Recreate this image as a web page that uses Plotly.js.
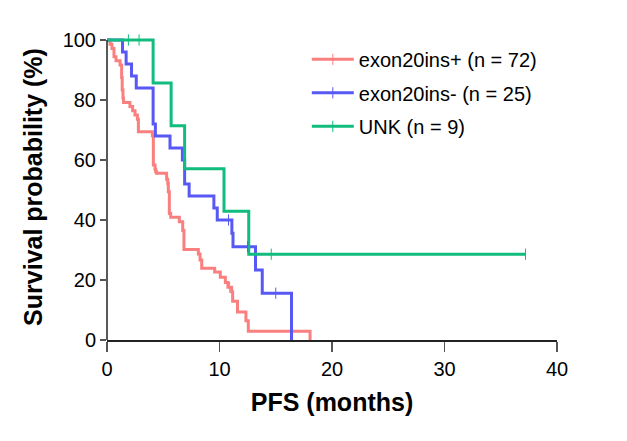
<!DOCTYPE html>
<html>
<head>
<meta charset="utf-8">
<script src="https://cdn.plot.ly/plotly-3.0.1.min.js"></script>
<style>html,body{margin:0;padding:0;background:#fff;}#chart{width:627px;height:441px;}</style>
</head>
<body>
<div id="chart"></div>
<script>
// Kaplan-Meier step data (time in months, survival in %)
const seriesNames = ["exon20ins+ (n = 72)", "exon20ins- (n = 25)", "UNK (n = 9)"];

const redT = [0, 0.27, 0.44, 0.62, 0.8, 1.16, 1.3, 1.35, 1.42, 1.47, 2.04, 2.28, 2.49, 2.7, 2.79, 4.03, 4.12, 4.27, 4.33, 4.41, 5.3, 5.4, 5.45, 5.54, 5.66, 6.43, 6.73, 6.84, 8.12, 8.27, 8.42, 9.57, 10.07, 10.52, 10.75, 11.08, 11.17, 11.6, 12.35, 12.56, 18.05];
const redS = [100, 98.6, 97.2, 94.4, 93.1, 91.7, 87.5, 83.3, 80.6, 79.2, 77.8, 76.4, 75.0, 73.6, 69.4, 68.1, 58.3, 56.9, 56.1, 55.6, 53.6, 52.2, 49.4, 42.2, 40.9, 39.4, 36.5, 30.2, 28.7, 26.7, 23.9, 22.7, 20.9, 19.2, 17.6, 16.1, 12.9, 9.3, 6.4, 2.9, 0];
const redCensorT = [10.9];
const redCensorS = [17.6];

const blueT = [0, 1.38, 1.7, 2.18, 2.6, 4.1, 4.3, 5.6, 6.7, 6.9, 7.3, 9.5, 9.8, 11.1, 11.2, 13.2, 13.8, 16.4];
const blueS = [100, 96, 92, 88, 84, 72, 68, 64, 60, 52, 48, 44, 40, 35.6, 31.1, 23.3, 15.6, 0];
const blueCensorT = [10.8, 12.5, 15.0];
const blueCensorS = [40, 31.1, 15.6];

const greenT = [0, 4.1, 5.7, 6.9, 10.4, 12.6, 37.2];
const greenS = [100, 85.7, 71.4, 57.1, 42.9, 28.6, 28.6];
const greenCensorT = [1.9, 2.85, 14.6, 37.2];
const greenCensorS = [100, 100, 28.6, 28.6];

const xTicks = [0, 10, 20, 30, 40];
const yTicks = [0, 20, 40, 60, 80, 100];

const colors = ["#FA7F7F", "#5858F5", "#10BC7E"];
const FONT = "Liberation Sans, Arial, Helvetica, sans-serif";

function gapped(arr) {
  const out = [];
  arr.forEach((v, i) => { if (i > 0) out.push(null); out.push(v); });
  return out;
}

const curves = [[redT, redS], [blueT, blueS], [greenT, greenS]];
const censors = [[redCensorT, redCensorS], [blueCensorT, blueCensorS], [greenCensorT, greenCensorS]];

const traces = [];
curves.forEach((c, i) => {
  traces.push({
    x: c[0], y: c[1], type: "scatter", mode: "lines",
    line: {shape: "hv", color: colors[i], width: 3},
    showlegend: false, hoverinfo: "skip", legendgroup: "g" + i
  });
});
censors.forEach((c, i) => {
  traces.push({
    x: gapped(c[0]), y: gapped(c[1]), type: "scatter", mode: "lines+markers",
    name: seriesNames[i], connectgaps: false, legendgroup: "g" + i,
    line: {color: colors[i], width: 3},
    marker: {symbol: "line-ns-open", size: 8, color: colors[i], line: {color: colors[i], width: 1}},
    cliponaxis: false
  });
});

const layout = {
  width: 627, height: 441,
  margin: {l: 107, r: 70, t: 34, b: 101},
  paper_bgcolor: "#fff", plot_bgcolor: "#fff",
  font: {family: FONT, color: "#000", size: 20},
  showlegend: true,
  legend: {
    x: 0.444, y: 0.981, xanchor: "left", yanchor: "top",
    font: {family: FONT, size: 20, color: "#000"},
    bgcolor: "rgba(0,0,0,0)", itemwidth: 42, tracegroupgap: 4.5,
    traceorder: "grouped"
  },
  xaxis: {
    range: [0, 40], tickvals: xTicks, ticktext: xTicks.map(String),
    ticks: "outside", ticklen: 10, tickwidth: 1.5, tickcolor: "#555",
    showline: true, linecolor: "#222", linewidth: 1.5,
    showgrid: false, zeroline: false,
    tickfont: {family: FONT, size: 20, color: "#000"},
    title: {text: "<b>PFS (months)</b>", font: {family: FONT, size: 25, color: "#000"}, standoff: 15}
  },
  yaxis: {
    range: [0, 102], tickvals: yTicks, ticktext: yTicks.map(String),
    ticks: "outside", ticklen: 6, tickwidth: 1.5, tickcolor: "#555",
    showline: false, showgrid: false, zeroline: false,
    tickfont: {family: FONT, size: 20, color: "#000"},
    title: {text: "<b>Survival probability (%)</b>", font: {family: FONT, size: 25, color: "#000"}, standoff: 12}
  },
  shapes: [{
    type: "line", xref: "paper", yref: "y", x0: 0, x1: 0, y0: 0, y1: 100,
    line: {color: "#222", width: 1.5}, layer: "above"
  }]
};

Plotly.newPlot("chart", traces, layout, {displayModeBar: false, staticPlot: true});
</script>
</body>
</html>
